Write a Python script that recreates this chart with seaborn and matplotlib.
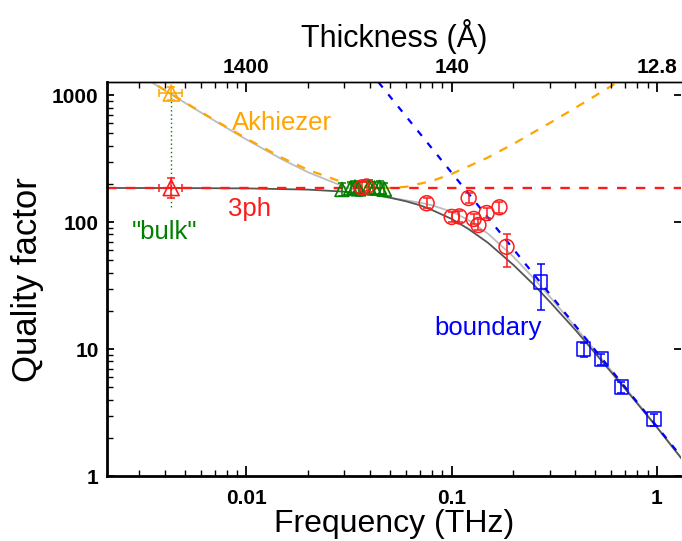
import matplotlib
matplotlib.use("Agg")
import matplotlib.pyplot as plt
import seaborn as sns
import numpy as np
from matplotlib.ticker import LogLocator, NullFormatter, FixedLocator, FixedFormatter

# ---------------- data ----------------
freq_ticks = [0.01, 0.1, 1]
freq_tick_labels = ["0.01", "0.1", "1"]
q_ticks = [1, 10, 100, 1000]
q_tick_labels = ["1", "10", "100", "1000"]
thick_tick_labels = ["1400", "140", "12.8"]

# model curves
akh_f = [0.0037, 0.005, 0.007, 0.01, 0.015, 0.02, 0.03, 0.04, 0.0472, 0.06, 0.08,
         0.1, 0.15, 0.2, 0.3, 0.4, 0.5, 0.6, 0.66]
akh_q = [1187, 882, 637, 456, 320, 258, 204, 188, 185, 190, 211,
         240, 323, 414, 603, 795, 989, 1183, 1300]
ph3_f = [0.00209, 1.32]
ph3_q = [186, 186]
bnd_f = [0.044, 1.32]
bnd_q = [1265, 1.41]
dark_f = [0.00209, 0.005, 0.01, 0.02, 0.03, 0.04, 0.05, 0.06, 0.07, 0.08, 0.1, 0.12,
          0.15, 0.2, 0.25, 0.3, 0.4, 0.5, 0.7, 1.0, 1.32]
dark_q = [186, 185.6, 184.6, 180.5, 174, 166, 156, 146, 136, 125, 106, 89,
          69, 46, 32.4, 23.7, 14.2, 9.3, 4.87, 2.42, 1.37]
light_f = [0.0032, 0.0037, 0.005, 0.007, 0.01, 0.015, 0.02, 0.03, 0.04, 0.05, 0.06,
           0.07, 0.08, 0.1, 0.12, 0.15, 0.2, 0.25, 0.3, 0.4, 0.5, 0.7, 1.0, 1.32]
light_q = [1362, 1180, 874, 629, 448, 311, 247, 190, 167, 156, 148.5,
           142.6, 136, 121, 104.6, 81.4, 53.4, 36.4, 26.0, 15.0, 9.7, 4.98, 2.45, 1.37]

# "bulk" measurement
bulk_f = [0.0043]
bulk_f_lo = [0.00375]
bulk_f_hi = [0.00485]
akh_meas_q = [1040]
akh_meas_lo = [913]
akh_meas_hi = [1170]
ph3_meas_q = [187]
ph3_meas_lo = [155]
ph3_meas_hi = [222]
bulk_link_q = [1037, 132]

# green triangles
green_f = [0.0292, 0.0322, 0.0338, 0.0352, 0.0395, 0.0420, 0.0445, 0.0470]
green_q = [181, 186, 189, 183, 190, 186, 188, 182]
green_lo = [160, 165, 168, 162, 168, 165, 167, 161]
green_hi = [204, 209, 212, 206, 213, 209, 211, 205]

# red circles
red_f = [0.0365, 0.0385, 0.0755, 0.100, 0.109, 0.121, 0.128, 0.135, 0.148, 0.171, 0.185]
red_q = [188, 191, 141, 110, 111, 155, 106, 95, 118, 131, 64]
red_lo = [172, 175, 129, 100, 101, 141, 96, 86, 107, 119, 44]
red_hi = [206, 209, 155, 121, 122, 170, 117, 105, 130, 144, 80]

# blue squares
blue_f = [0.271, 0.439, 0.537, 0.672, 0.972]
blue_q = [33.7, 10.0, 8.34, 5.02, 2.81]
blue_lo = [20.3, 8.7, 7.5, 4.5, 2.5]
blue_hi = [46.8, 11.1, 9.1, 5.5, 3.1]

ORANGE = "#FFA500"
RED = "#FF1A1A"
GREEN = "#008000"
BLUE = "#0000FF"

# ---------------- style ----------------
sns.set_theme(style="ticks")
plt.rcParams["font.family"] = ["Liberation Sans", "DejaVu Sans"]
plt.rcParams["axes.linewidth"] = 1.8
for key in ["text.color", "axes.labelcolor", "xtick.color", "ytick.color",
            "xtick.labelcolor", "ytick.labelcolor", "axes.edgecolor"]:
    plt.rcParams[key] = "black"

fig, ax = plt.subplots(figsize=(6.82, 5.41), dpi=100)
fig.subplots_adjust(left=0.157, right=0.999, bottom=0.12, top=0.848)
ax.set_xscale("log")
ax.set_yscale("log")

# curves
sns.lineplot(x=light_f, y=light_q, ax=ax, color="#BDBDBD", lw=1.3, sort=False, estimator=None)
sns.lineplot(x=dark_f, y=dark_q, ax=ax, color="#555555", lw=1.3, sort=False, estimator=None)
sns.lineplot(x=akh_f, y=akh_q, ax=ax, color=ORANGE, lw=1.6, linestyle=(0, (4, 4)), sort=False, estimator=None)
sns.lineplot(x=ph3_f, y=ph3_q, ax=ax, color=RED, lw=1.7, linestyle=(0, (4, 4)), sort=False, estimator=None)
sns.lineplot(x=bnd_f, y=bnd_q, ax=ax, color=BLUE, lw=1.6, linestyle=(0, (3, 4)), sort=False, estimator=None)
sns.lineplot(x=[bulk_f[0], bulk_f[0]], y=bulk_link_q, ax=ax, color=GREEN, lw=1.0,
             linestyle=(0, (1, 2)), sort=False, estimator=None)

# error bars
def ebars(f, q, lo, hi, color, flo=None, fhi=None):
    f = np.array(f); q = np.array(q)
    yerr = [q - np.array(lo), np.array(hi) - q]
    xerr = None
    if flo is not None:
        xerr = [f - np.array(flo), np.array(fhi) - f]
    ax.errorbar(f, q, yerr=yerr, xerr=xerr, fmt="none", ecolor=color, elinewidth=1.1,
                capsize=3, capthick=1.1, zorder=4)

ebars(bulk_f, akh_meas_q, akh_meas_lo, akh_meas_hi, ORANGE, bulk_f_lo, bulk_f_hi)
ebars(bulk_f, ph3_meas_q, ph3_meas_lo, ph3_meas_hi, RED, bulk_f_lo, bulk_f_hi)
ebars(green_f, green_q, green_lo, green_hi, GREEN)
ebars(red_f, red_q, red_lo, red_hi, RED)
ebars(blue_f, blue_q, blue_lo, blue_hi, BLUE)

# markers
sns.scatterplot(x=bulk_f, y=akh_meas_q, ax=ax, marker="^", s=130, facecolor="none",
                edgecolor=ORANGE, linewidth=1.2, zorder=5)
sns.scatterplot(x=bulk_f, y=ph3_meas_q, ax=ax, marker="^", s=130, facecolor="none",
                edgecolor=RED, linewidth=1.2, zorder=5)
sns.scatterplot(x=green_f, y=green_q, ax=ax, marker="^", s=100, facecolor="none",
                edgecolor=GREEN, linewidth=1.2, zorder=5)
sns.scatterplot(x=red_f, y=red_q, ax=ax, marker="o", s=115, facecolor="none",
                edgecolor=RED, linewidth=1.1, zorder=6)
sns.scatterplot(x=blue_f, y=blue_q, ax=ax, marker="s", s=100, facecolor="none",
                edgecolor=BLUE, linewidth=1.1, zorder=6)

# limits & ticks
ax.set_xlim(0.002094, 1.315)
ax.set_ylim(1, 1266)
ax.xaxis.set_major_locator(FixedLocator(freq_ticks))
ax.xaxis.set_major_formatter(FixedFormatter(freq_tick_labels))
ax.xaxis.set_minor_locator(LogLocator(base=10, subs=np.arange(2, 10)))
ax.xaxis.set_minor_formatter(NullFormatter())
ax.yaxis.set_major_locator(FixedLocator(q_ticks))
ax.yaxis.set_major_formatter(FixedFormatter(q_tick_labels))
ax.yaxis.set_minor_locator(LogLocator(base=10, subs=np.arange(2, 10)))
ax.yaxis.set_minor_formatter(NullFormatter())

ax.tick_params(which="major", direction="in", length=7, width=1.3, labelsize=15, pad=6,
               colors="black")
ax.tick_params(axis="x", which="major", pad=9)
ax.tick_params(which="minor", direction="in", length=4, width=1.0, colors="black")
ax.tick_params(axis="y", which="major", right=True, length=5)
ax.tick_params(axis="y", which="minor", right=False)
for lab in ax.get_xticklabels() + ax.get_yticklabels():
    lab.set_fontweight("bold")

ax.spines["right"].set_visible(False)
ax.spines["top"].set_linewidth(1.0)
for s in ["left", "bottom"]:
    ax.spines[s].set_linewidth(2.0)
    ax.spines[s].set_color("black")

# top axis (thickness)
top = ax.twiny()
top.set_xscale("log")
top.set_xlim(ax.get_xlim())
top.xaxis.set_major_locator(FixedLocator(freq_ticks))
top.xaxis.set_major_formatter(FixedFormatter(thick_tick_labels))
top.xaxis.set_minor_locator(LogLocator(base=10, subs=np.arange(2, 10)))
top.xaxis.set_minor_formatter(NullFormatter())
top.tick_params(which="major", direction="in", length=7, width=1.3, labelsize=15, pad=4,
                colors="black")
top.tick_params(which="minor", direction="in", length=4, width=1.0, colors="black")
for lab in top.get_xticklabels():
    lab.set_fontweight("bold")
for s in ["left", "right", "bottom"]:
    top.spines[s].set_visible(False)
top.spines["top"].set_linewidth(1.0)
top.spines["top"].set_color("black")
top.set_xlabel("Thickness (Å)", fontsize=22, labelpad=8, color="black")

ax.set_xlabel("Frequency (THz)", fontsize=23, labelpad=1, color="black")
ax.set_ylabel("Quality factor", fontsize=25, labelpad=6, color="black")

# in-plot labels
ax.text(0.0085, 602, "Akhiezer", color=ORANGE, fontsize=18.5, ha="left", va="center")
ax.text(0.00813, 126.5, "3ph", color=RED, fontsize=18.5, ha="left", va="center")
ax.text(0.00277, 83.4, "\"bulk\"", color=GREEN, fontsize=18.5, ha="left", va="center")
ax.text(0.0827, 14.6, "boundary", color=BLUE, fontsize=18.5, ha="left", va="center")

fig.savefig("out.png", dpi=100)
